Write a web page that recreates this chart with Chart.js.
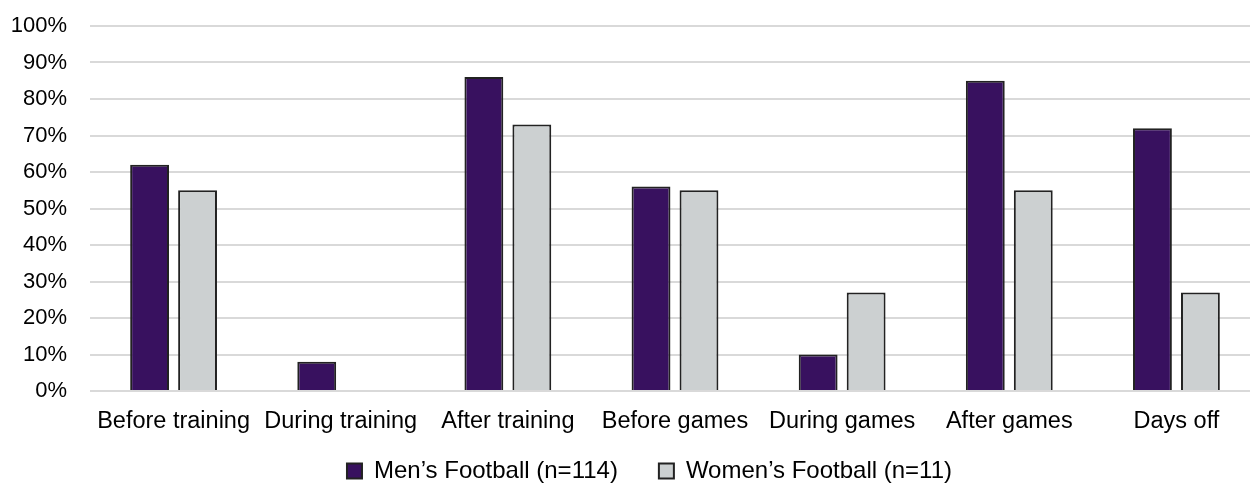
<!DOCTYPE html>
<html>
<head>
<meta charset="utf-8">
<script src="https://cdn.jsdelivr.net/npm/chart.js@4.4.1/dist/chart.umd.min.js"></script>
<style>
  html, body { margin: 0; padding: 0; background: #fff; overflow: hidden; }
  #wrap { width: 1262px; height: 483px; }
</style>
</head>
<body>
<div id="wrap"><canvas id="chart"></canvas></div>
<script>
// Chart data
const categories = ['Before training', 'During training', 'After training', 'Before games', 'During games', 'After games', 'Days off'];
const mensValues = [62, 8, 86, 56, 10, 85, 72];
const womensValues = [55, 0, 73, 55, 27, 55, 27];
const seriesNames = ['Men\u2019s Football (n=114)', 'Women\u2019s Football (n=11)'];
const yTicks = [0, 10, 20, 30, 40, 50, 60, 70, 80, 90, 100];

const FONT = '"Liberation Sans", Arial, sans-serif';

// legend sits a bit left of the plot centre in the original picture
const legendPlace = {
    id: 'legendPlace',
    afterLayout(chart) {
        const lg = chart.legend;
        const pad = lg.options.labels.padding;
        const size = lg.options.labels.font.size;
        lg.left = 0;
        lg.right = 1299;
        lg.top = 471 - pad - size / 2;
    }
};

const ctx = document.getElementById('chart').getContext('2d');
new Chart(ctx, {
    type: 'bar',
    data: {
        labels: categories,
        datasets: [{
            label: seriesNames[0],
            data: mensValues,
            backgroundColor: '#38115f',
            borderColor: '#222',
            borderWidth: 2
        }, {
            label: seriesNames[1],
            data: womensValues,
            backgroundColor: '#ccd0d1',
            borderColor: '#222',
            borderWidth: 2
        }]
    },
    options: {
        responsive: true,
        maintainAspectRatio: false,
        animation: false,
        datasets: {
            bar: { categoryPercentage: 0.574, barPercentage: 0.81 }
        },
        layout: { padding: { top: 26, right: 2, left: 0, bottom: -33 } },
        plugins: {
            legend: {
                position: 'bottom',
                labels: {
                    color: '#000',
                    font: { family: FONT, size: 24 },
                    boxWidth: 15,
                    boxHeight: 15,
                    padding: 41
                }
            },
            tooltip: { enabled: false }
        },
        scales: {
            x: {
                grid: { display: false, drawTicks: false },
                border: { display: false },
                ticks: {
                    color: '#000',
                    font: { family: FONT, size: 23.5 },
                    padding: 16,
                    maxRotation: 0,
                    autoSkip: false
                },
                afterFit: scale => { scale.height = 50; }
            },
            y: {
                min: 0,
                max: 100,
                afterBuildTicks: scale => { scale.ticks = yTicks.map(v => ({ value: v })); },
                grid: { color: '#d9d9d9', lineWidth: 2, drawTicks: false },
                border: { display: false },
                ticks: {
                    color: '#000',
                    font: { family: FONT, size: 22 },
                    padding: 23,
                    callback: value => value + '%'
                },
                afterFit: scale => {
                    scale.width = 90;
                    scale.paddingTop = 0;
                    scale.paddingBottom = 0;
                }
            }
        }
    },
    plugins: [legendPlace]
});
</script>
</body>
</html>
